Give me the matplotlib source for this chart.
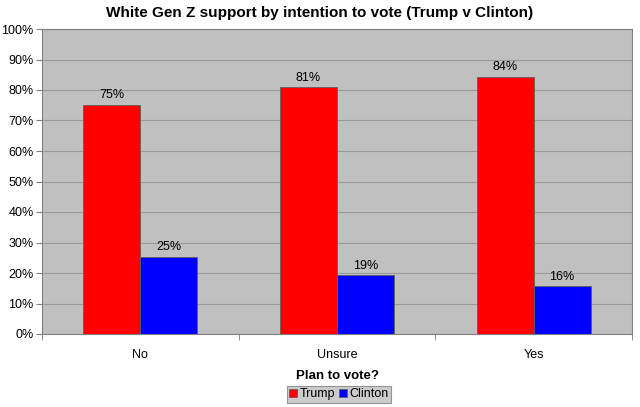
import numpy as np
import matplotlib
matplotlib.use('Agg')
import matplotlib.pyplot as plt
from matplotlib.ticker import FixedLocator, NullFormatter

plt.rcParams['font.family'] = ['Liberation Sans', 'DejaVu Sans']

categories = ["No", "Unsure", "Yes"]
trump = [75.1, 80.9, 84.4]
clinton = [25.2, 19.2, 15.6]

fig = plt.figure(figsize=(6.4, 4.07), dpi=100)
ax = fig.add_axes([42 / 640, 1 - 334 / 407, 590 / 640, 305 / 407])
ax.set_facecolor("#c0c0c0")

x = np.arange(len(categories))
w = 0.29
b1 = ax.bar(x - w / 2, trump, w, color="#ff0000", edgecolor="#606060", linewidth=0.6, label="Trump", zorder=3)
b2 = ax.bar(x + w / 2, clinton, w, color="#0000ff", edgecolor="#606060", linewidth=0.6, label="Clinton", zorder=3)

for bars, vals in ((b1, trump), (b2, clinton)):
    for rect, v in zip(bars, vals):
        ax.text(rect.get_x() + rect.get_width() / 2, v + 1.2, "%.0f%%" % v,
                ha="center", va="bottom", fontsize=9)

ax.set_xlim(-0.5, 2.5)
ax.set_ylim(0, 100)
ax.set_yticks(range(0, 101, 10))
ax.set_yticklabels(["%d%%" % t for t in range(0, 101, 10)], fontsize=9)
ax.grid(axis="y", color="#9a9a9a", linewidth=0.8, zorder=0)

ax.set_xticks(x)
ax.set_xticklabels(categories, fontsize=9)
ax.tick_params(axis="x", which="major", length=0, pad=11)
ax.xaxis.set_minor_locator(FixedLocator([-0.5, 0.5, 1.5, 2.5]))
ax.xaxis.set_minor_formatter(NullFormatter())
ax.tick_params(axis="x", which="minor", length=4, color="#808080")
ax.tick_params(axis="y", length=4, color="#808080", pad=2)

for s in ax.spines.values():
    s.set_color("#808080")
    s.set_linewidth(0.8)

ax.set_xlabel("Plan to vote?", fontsize=9.5, fontweight="bold", labelpad=6)
fig.text(0.5, 1 - 13 / 407, "White Gen Z support by intention to vote (Trump v Clinton)",
         ha="center", va="center", fontsize=11, fontweight="bold")

leg = fig.legend(loc="center", bbox_to_anchor=(339 / 640, 1 - 394 / 407), ncol=2,
                 fontsize=9, frameon=True, fancybox=False, handlelength=0.6,
                 handleheight=0.6, handletextpad=0.25, columnspacing=0.3,
                 borderpad=0.2, borderaxespad=0)
leg.get_frame().set_facecolor("#c0c0c0")
leg.get_frame().set_edgecolor("#808080")
leg.get_frame().set_linewidth(0.8)

fig.savefig("out.png", dpi=100)
